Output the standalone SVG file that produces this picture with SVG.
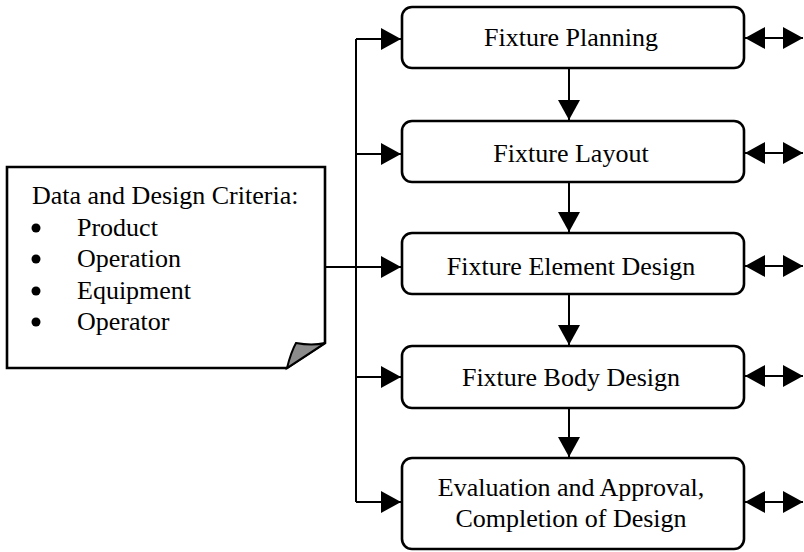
<svg xmlns="http://www.w3.org/2000/svg" width="804" height="552" viewBox="0 0 804 552">
<style>
.box{fill:#fff;stroke:#000;stroke-width:2.6}
.t{font-family:"Liberation Serif","Times New Roman",serif;font-size:26px;fill:#000}
.c{text-anchor:middle}
.ln{fill:none;stroke:#000;stroke-width:2}
.ar{fill:none;stroke:#000;stroke-width:2;marker-end:url(#ah)}
.dar{fill:none;stroke:#000;stroke-width:2;marker-end:url(#ah);marker-start:url(#ah)}
</style>
<defs>
<marker id="ah" markerUnits="userSpaceOnUse" markerWidth="20" markerHeight="22" refX="20" refY="11" orient="auto-start-reverse" viewBox="0 0 20 22">
<path d="M0,0 L20,11 L0,22 Z" fill="#000"/>
</marker>
</defs>
<g id="note">
<path d="M7,167 L325,167 L325,343 L287,368 L7,368 Z" fill="#fff" stroke="#000" stroke-width="2.6"/>
<path d="M287,368 Q291,352 296,343 Q312,346 325,343 Z" fill="#8c8c8c" stroke="#000" stroke-width="2"/>
<text class="t" x="32" y="204">Data and Design Criteria:</text>
<circle cx="36" cy="228" r="4.5"/>
<text class="t" x="77" y="236">Product</text>
<circle cx="36" cy="259" r="4.5"/>
<text class="t" x="77" y="267">Operation</text>
<circle cx="36" cy="291" r="4.5"/>
<text class="t" x="77" y="299">Equipment</text>
<circle cx="36" cy="322" r="4.5"/>
<text class="t" x="77" y="330">Operator</text>
</g>
<g id="n1"><rect class="box" x="402" y="7" width="342" height="61" rx="10"/><text class="t c" x="571" y="46">Fixture Planning</text></g>
<g id="n2"><rect class="box" x="402" y="121" width="342" height="61" rx="10"/><text class="t c" x="571" y="162">Fixture Layout</text></g>
<g id="n3"><rect class="box" x="402" y="233" width="342" height="61" rx="10"/><text class="t c" x="571" y="275">Fixture Element Design</text></g>
<g id="n4"><rect class="box" x="402" y="346" width="342" height="62" rx="10"/><text class="t c" x="571" y="386">Fixture Body Design</text></g>
<g id="n5"><rect class="box" x="402" y="458" width="342" height="91" rx="10"/><text class="t c" x="571" y="496">Evaluation and Approval,</text><text class="t c" x="571" y="527">Completion of Design</text></g>
<g id="connectors">
<line class="ln" x1="356" y1="39" x2="356" y2="502"/>
<line class="ar" x1="356" y1="39" x2="401" y2="39"/>
<line class="ar" x1="356" y1="154" x2="401" y2="154"/>
<line class="ar" x1="325" y1="267" x2="401" y2="267"/>
<line class="ar" x1="356" y1="377" x2="401" y2="377"/>
<line class="ar" x1="356" y1="502" x2="401" y2="502"/>
<line class="ar" x1="569" y1="68" x2="569" y2="120"/>
<line class="ar" x1="569" y1="182" x2="569" y2="232"/>
<line class="ar" x1="569" y1="294" x2="569" y2="345"/>
<line class="ar" x1="569" y1="408" x2="569" y2="457"/>
<line class="dar" x1="745" y1="38" x2="803" y2="38"/>
<line class="dar" x1="745" y1="153" x2="803" y2="153"/>
<line class="dar" x1="745" y1="266" x2="803" y2="266"/>
<line class="dar" x1="745" y1="376" x2="803" y2="376"/>
<line class="dar" x1="745" y1="502" x2="803" y2="502"/>
</g>
</svg>
